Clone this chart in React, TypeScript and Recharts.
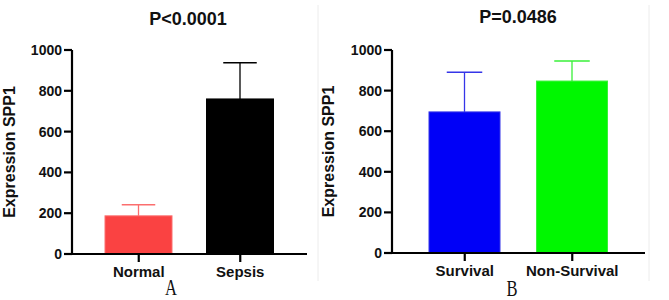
import React from 'react';
import { BarChart, Bar, XAxis, YAxis, Cell } from 'recharts';

// panel A: Normal vs Sepsis
const GROUPS_A = ['Normal', 'Sepsis'];
const MEAN_A = [187, 760];
const SD_A = [54, 177];

// panel B: Survival vs Non-Survival
const GROUPS_B = ['Survival', 'Non-Survival'];
const MEAN_B = [695, 847];
const SD_B = [195, 99];

const Y_TICKS = [0, 200, 400, 600, 800, 1000];

const FILLS_A = ['#fa4242', '#000000'];
const EDGES_A = ['#fb6e6e', '#000000'];
const FILLS_B = ['#0000f7', '#00f700'];
const EDGES_B = ['#3535e8', '#38f038'];

const SANS = '"Liberation Sans", Arial, sans-serif';
const SERIF = '"Liberation Serif", "Times New Roman", serif';

interface PanelProps {
  groups: string[];
  means: number[];
  sds: number[];
  fills: string[];
  edges: string[];
  width: number;
  marginRight: number;
  marginBottom: number;
  pad: number;
  barSize: number;
  labelX: number;
}

function makeShape(fills: string[], edges: string[]) {
  return (props: any) => {
    const { x, y, width, height, index, payload } = props;
    const perUnit = payload.mean ? height / payload.mean : 0;
    const top = y - payload.sd * perUnit;
    const cx = x + width / 2;
    const half = width * 0.25;
    return (
      <g>
        <rect x={x} y={y} width={width} height={height} fill={fills[index]} stroke={edges[index]} strokeWidth={1} />
        <line x1={cx} x2={cx} y1={y} y2={top} stroke={edges[index]} strokeWidth={1.3} />
        <line x1={cx - half} x2={cx + half} y1={top} y2={top} stroke={edges[index]} strokeWidth={1.5} />
      </g>
    );
  };
}

function Panel(p: PanelProps) {
  const data = p.groups.map((g, i) => ({ group: g, mean: p.means[i], sd: p.sds[i] }));
  const axisStyle = { stroke: '#000', strokeWidth: 2.2 };
  return (
    <BarChart
      width={p.width}
      height={300}
      data={data}
      margin={{ top: 50, right: p.marginRight, bottom: p.marginBottom, left: 12 }}
    >
      <XAxis
        dataKey="group"
        padding={{ left: p.pad, right: p.pad }}
        axisLine={axisStyle}
        tickLine={axisStyle}
        tickSize={8}
        tickMargin={4}
        height={30}
        tick={{ fill: '#111', fontSize: 15, fontWeight: 700, fontFamily: SANS }}
      />
      <YAxis
        type="number"
        domain={[0, 1000]}
        ticks={Y_TICKS}
        interval={0}
        width={60}
        axisLine={axisStyle}
        tickLine={axisStyle}
        tickSize={8}
        tickMargin={2}
        tick={{ fill: '#111', fontSize: 14, fontWeight: 700, fontFamily: SANS }}
        label={(lp: any) => {
          const vb = lp.viewBox;
          const cy = vb.y + vb.height / 2;
          return (
            <text
              x={p.labelX}
              y={cy}
              transform={`rotate(-90 ${p.labelX} ${cy})`}
              textAnchor="middle"
              dominantBaseline="central"
              fill="#111"
              fontSize={16}
              fontWeight={700}
              fontFamily={SANS}
            >
              Expression SPP1
            </text>
          );
        }}
      />
      <Bar dataKey="mean" barSize={p.barSize} isAnimationActive={false} shape={makeShape(p.fills, p.edges)}>
        {data.map((d, i) => (
          <Cell key={d.group} fill={p.fills[i]} />
        ))}
      </Bar>
    </BarChart>
  );
}

export default function App() {
  return (
    <div style={{ position: 'absolute', left: 0, top: 0, width: 669, height: 300, background: '#fff', overflow: 'hidden' }}>
      <div style={{ position: 'absolute', left: 0, top: 0 }}>
        <Panel
          groups={GROUPS_A}
          means={MEAN_A}
          sds={SD_A}
          fills={FILLS_A}
          edges={EDGES_A}
          width={335}
          marginRight={28}
          marginBottom={16}
          pad={16}
          barSize={67}
          labelX={9}
        />
      </div>
      <div style={{ position: 'absolute', left: 320, top: 0 }}>
        <Panel
          groups={GROUPS_B}
          means={MEAN_B}
          sds={SD_B}
          fills={FILLS_B}
          edges={EDGES_B}
          width={349}
          marginRight={24}
          marginBottom={17}
          pad={19}
          barSize={71}
          labelX={8}
        />
      </div>
      <svg width={669} height={300} style={{ position: 'absolute', left: 0, top: 0, pointerEvents: 'none' }}>
        <polyline points="318,5 318,281" fill="none" stroke="#ececec" strokeWidth={1} />
        <polyline points="649,5 649,281" fill="none" stroke="#ececec" strokeWidth={1} />
        <text x={188} y={19} textAnchor="middle" dominantBaseline="central" fontSize={18} fontWeight={700} fontFamily={SANS} fill="#111">
          P&lt;0.0001
        </text>
        <text x={518} y={17} textAnchor="middle" dominantBaseline="central" fontSize={18} fontWeight={700} fontFamily={SANS} fill="#111">
          P=0.0486
        </text>
        <text transform="translate(171 295) scale(0.72 1)" textAnchor="middle" fontSize={23} fontFamily={SERIF} fill="#111">
          A
        </text>
        <text transform="translate(512 296) scale(0.72 1)" textAnchor="middle" fontSize={23} fontFamily={SERIF} fill="#111">
          B
        </text>
      </svg>
    </div>
  );
}
